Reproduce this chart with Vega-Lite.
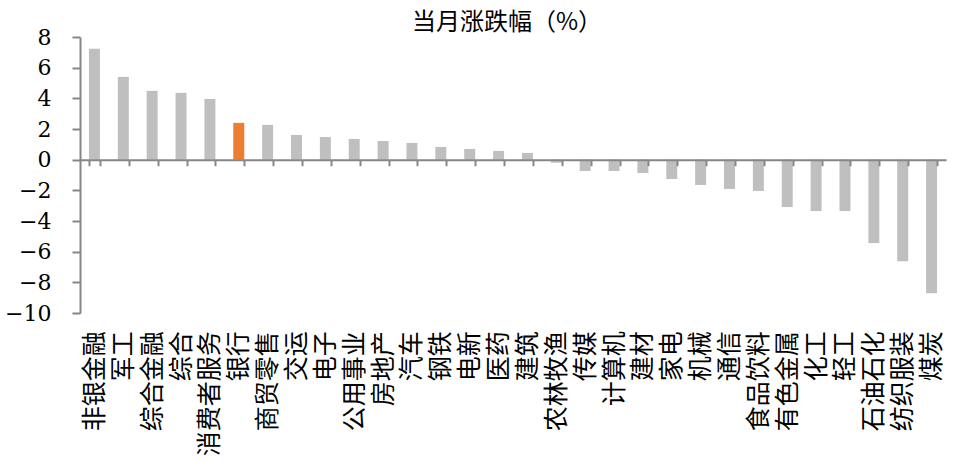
{
  "$schema": "https://vega.github.io/schema/vega-lite/v6.json",
  "width": 866,
  "height": 276,
  "autosize": "none",
  "padding": {"left": 80, "top": 37, "right": 22, "bottom": 153},
  "background": "white",
  "title": {
    "text": "当月涨跌幅（%）",
    "font": "Noto Sans CJK SC",
    "fontSize": 24,
    "fontWeight": "normal",
    "color": "#000000",
    "anchor": "middle",
    "dx": -6,
    "offset": -9
  },
  "data": {
    "values": [
      {"industry": "非银金融", "value": 7.23},
      {"industry": "军工", "value": 5.40},
      {"industry": "综合金融", "value": 4.49},
      {"industry": "综合", "value": 4.36},
      {"industry": "消费者服务", "value": 3.96},
      {"industry": "银行", "value": 2.40},
      {"industry": "商贸零售", "value": 2.27},
      {"industry": "交运", "value": 1.61},
      {"industry": "电子", "value": 1.48},
      {"industry": "公用事业", "value": 1.35},
      {"industry": "房地产", "value": 1.22},
      {"industry": "汽车", "value": 1.09},
      {"industry": "钢铁", "value": 0.83},
      {"industry": "电新", "value": 0.70},
      {"industry": "医药", "value": 0.57},
      {"industry": "建筑", "value": 0.44},
      {"industry": "农林牧渔", "value": -0.20},
      {"industry": "传媒", "value": -0.74},
      {"industry": "计算机", "value": -0.74},
      {"industry": "建材", "value": -0.87},
      {"industry": "家电", "value": -1.26},
      {"industry": "机械", "value": -1.65},
      {"industry": "通信", "value": -1.91},
      {"industry": "食品饮料", "value": -2.04},
      {"industry": "有色金属", "value": -3.09},
      {"industry": "化工", "value": -3.35},
      {"industry": "轻工", "value": -3.35},
      {"industry": "石油石化", "value": -5.44},
      {"industry": "纺织服装", "value": -6.62},
      {"industry": "煤炭", "value": -8.71}
    ]
  },
  "mark": {"type": "bar"},
  "encoding": {
    "x": {
      "field": "industry",
      "type": "nominal",
      "sort": null,
      "scale": {"paddingInner": 0.62, "paddingOuter": 0.31},
      "axis": {
        "title": null,
        "orient": "bottom",
        "offset": -153.3,
        "zindex": 1,
        "domainColor": "#868686",
        "domainWidth": 2,
        "tickColor": "#868686",
        "tickWidth": 2,
        "tickSize": 6,
        "tickBand": "extent",
        "labelAngle": -90,
        "labelPadding": 165,
        "labelFont": "Noto Sans CJK SC",
        "labelFontSize": 25,
        "labelColor": "#000000",
        "labelOverlap": false,
        "labelLimit": 300,
        "labelFlush": false
      }
    },
    "y": {
      "field": "value",
      "type": "quantitative",
      "scale": {"domain": [-10, 8], "nice": false, "zero": true},
      "axis": {
        "title": null,
        "values": [-10, -8, -6, -4, -2, 0, 2, 4, 6, 8],
        "grid": false,
        "zindex": 1,
        "domainColor": "#868686",
        "domainWidth": 2,
        "tickColor": "#868686",
        "tickWidth": 2,
        "tickSize": 8,
        "labelPadding": 21,
        "labelFont": "DejaVu Serif",
        "labelFontSize": 22,
        "labelColor": "#000000"
      }
    },
    "color": {
      "condition": {"test": "datum.industry === '银行'", "value": "#ED7D31"},
      "value": "#BFBFBF"
    }
  },
  "config": {"view": {"stroke": null}}
}
